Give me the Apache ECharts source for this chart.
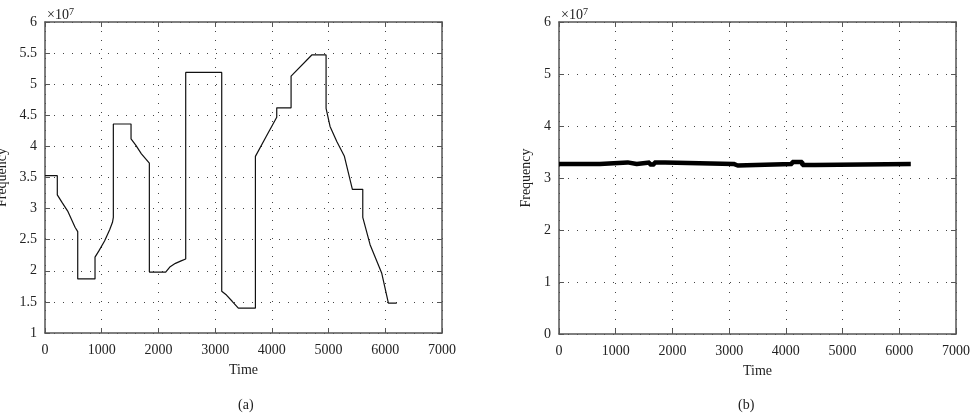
<!DOCTYPE html>
<html><head><meta charset="utf-8">
<script src="https://cdn.jsdelivr.net/npm/echarts@6/dist/echarts.min.js"></script>
<style>html,body{margin:0;padding:0;background:#fff}#c{width:976px;height:416px}</style>
</head><body><div id="c"></div>
<script>
// Values in units of 10^7
const timeA = [0, 217, 217, 300, 400, 480, 530, 577, 577, 882, 882, 950, 1050, 1140, 1190, 1205, 1205, 1517, 1517, 1600, 1700, 1840, 1840, 2128, 2200, 2300, 2400, 2481, 2481, 3116, 3116, 3200, 3300, 3409, 3710, 3710, 3900, 4086, 4086, 4339, 4339, 4704, 4956, 4956, 5026, 5145, 5279, 5420, 5603, 5603, 5732, 5938, 6055, 6202];
const freqA = [3.53, 3.53, 3.22, 3.10, 2.96, 2.80, 2.70, 2.63, 1.87, 1.87, 2.22, 2.32, 2.48, 2.66, 2.78, 2.86, 4.36, 4.36, 4.12, 4.02, 3.88, 3.73, 1.98, 1.98, 2.06, 2.12, 2.16, 2.19, 5.19, 5.19, 1.67, 1.61, 1.51, 1.40, 1.40, 3.84, 4.16, 4.47, 4.62, 4.62, 5.13, 5.47, 5.47, 4.61, 4.32, 4.08, 3.84, 3.31, 3.31, 2.86, 2.42, 1.96, 1.48, 1.48];
const timeB = [0, 720, 720, 1210, 1210, 1370, 1370, 1600, 1600, 1680, 1680, 1870, 1870, 3080, 3080, 3150, 3150, 4110, 4110, 4290, 4290, 4510, 4510, 6203];
const freqB = [3.27, 3.27, 3.30, 3.30, 3.27, 3.27, 3.30, 3.30, 3.26, 3.26, 3.30, 3.30, 3.27, 3.27, 3.24, 3.24, 3.27, 3.27, 3.31, 3.31, 3.25, 3.25, 3.27, 3.27];
const yTicksA = {min: 1, max: 6, interval: 0.5};
const yTicksB = {min: 0, max: 6, interval: 1};
const xTicks = {min: 0, max: 7000, interval: 1000};

const FONT = 'Liberation Serif';
const txt = {fontFamily: FONT, fontSize: 14, color: '#222'};
const axLine = {show: true, onZero: false, lineStyle: {color: '#555', width: 1.5}};
const split = {show: true, lineStyle: {color: '#444', type: [1, 8], width: 1}};

function xAx(gi, main) {
  return {type: 'value', gridIndex: gi, position: main ? 'bottom' : 'top', ...xTicks,
    name: main ? 'Time' : '', nameLocation: 'middle', nameGap: 30, nameTextStyle: txt,
    axisLine: axLine, axisTick: {show: true, inside: true, length: 5, lineStyle: {color: '#555'}},
    axisLabel: {show: main, ...txt, margin: 10, formatter: v => String(v)}, splitLine: main ? split : {show: false}};
}
function yAx(gi, main, t, nameGap) {
  return {type: 'value', gridIndex: gi, position: main ? 'left' : 'right', ...t,
    name: main ? 'Frequency' : '', nameLocation: 'middle', nameGap: nameGap, nameTextStyle: txt,
    axisLine: axLine, axisTick: {show: true, inside: true, length: 5, lineStyle: {color: '#555'}},
    axisLabel: {show: main, ...txt, margin: 8, formatter: v => String(v)}, splitLine: main ? split : {show: false}};
}

const chart = echarts.init(document.getElementById('c'), null, {renderer: 'canvas'});
chart.setOption({
  animation: false,
  backgroundColor: '#fff',
  grid: [
    {left: 45, right: 534, top: 22, bottom: 83, containLabel: false, outerBoundsMode: 'none'},
    {left: 559, right: 20, top: 22, bottom: 82, containLabel: false, outerBoundsMode: 'none'}
  ],
  xAxis: [xAx(0, true), xAx(0, false), xAx(1, true), xAx(1, false)],
  yAxis: [yAx(0, true, yTicksA, 36), yAx(0, false, yTicksA, 0), yAx(1, true, yTicksB, 26), yAx(1, false, yTicksB, 0)],
  title: [
    {text: '×10{s|7}', left: 42, top: 2, textStyle: {...txt, fontWeight: 'normal', rich: {s: {fontFamily: FONT, fontSize: 10, color: '#222', verticalAlign: 'top', padding: [0, 0, 6, 0]}}}},
    {text: '×10{s|7}', left: 556, top: 2, textStyle: {...txt, fontWeight: 'normal', rich: {s: {fontFamily: FONT, fontSize: 10, color: '#222', verticalAlign: 'top', padding: [0, 0, 6, 0]}}}},
    {text: '(a)', left: 233, top: 393, textStyle: {...txt, fontWeight: 'normal'}},
    {text: '(b)', left: 733, top: 393, textStyle: {...txt, fontWeight: 'normal'}}
  ],
  series: [
    {type: 'line', xAxisIndex: 0, yAxisIndex: 0, showSymbol: false, symbol: 'none',
     lineStyle: {color: '#111', width: 1.2}, data: timeA.map((t, i) => [t, freqA[i]])},
    {type: 'line', xAxisIndex: 2, yAxisIndex: 2, showSymbol: false, symbol: 'none',
     lineStyle: {color: '#000', width: 4.5}, data: timeB.map((t, i) => [t, freqB[i]])}
  ]
});
</script></body></html>
